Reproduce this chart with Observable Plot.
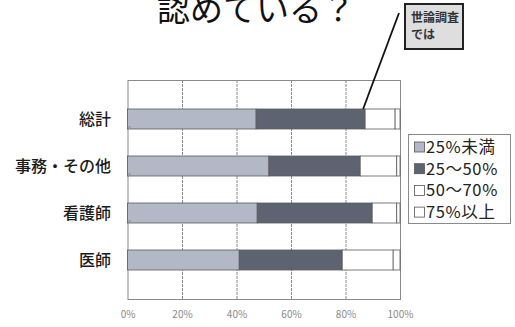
<!DOCTYPE html>
<html>
<head>
<meta charset="utf-8">
<script src="https://cdn.jsdelivr.net/npm/d3@7"></script>
<script src="https://cdn.jsdelivr.net/npm/@observablehq/plot@0.6"></script>
<style>
  html, body { margin: 0; padding: 0; background: #fff; }
  #chart svg { display: block; }
</style>
</head>
<body>
<div id="chart"></div>
<script>
// ---- data ----
const title = "認めている？";
const calloutLines = ["世論調査", "では"];
const categories = ["総計", "事務・その他", "看護師", "医師"];
const seriesNames = ["25%未満", "25〜50%", "50〜70%", "75%以上"];
const under25 = [47.2, 51.9, 47.6, 41.0];
const from25to50 = [40.0, 33.5, 42.2, 37.8];
const from50to70 = [11.0, 13.4, 9.0, 18.7];
const over75 = [1.8, 1.2, 1.2, 2.5];
const xTicks = [0, 20, 40, 60, 80, 100];
const xTickLabels = ["0%", "20%", "40%", "60%", "80%", "100%"];
const gridValues = [20, 40, 60, 80];
const seriesColors = ["#b3b8c6", "#5e6372", "#ffffff", "#ffffff"];

// ---- table ----
const seriesValues = [under25, from25to50, from50to70, over75];
const table = [];
categories.forEach((c, i) => {
  seriesNames.forEach((s, j) => table.push({cat: c, series: s, value: seriesValues[j][i]}));
});

const FONT = "'Noto Sans CJK JP', sans-serif";

const chart = Plot.plot({
  width: 515,
  height: 327,
  marginLeft: 127.5,
  marginRight: 115,
  marginTop: 80,
  marginBottom: 28,
  style: {fontFamily: FONT, background: "#fff"},
  x: {domain: [0, 100], axis: null},
  y: {domain: categories, padding: 0.58, axis: null},
  color: {domain: seriesNames, range: seriesColors},
  marks: [
    Plot.ruleX(gridValues, {stroke: "#8a8a8a", strokeWidth: 1, strokeDasharray: "3,1"}),
    Plot.frame({stroke: "#8a8a8a", strokeWidth: 1}),
    Plot.barX(table, Plot.stackX({
      x: "value", y: "cat", fill: "series", order: seriesNames,
      stroke: "#5a5a5a", strokeWidth: 0.8
    })),
    Plot.text(categories, {
      y: d => d, text: d => d, frameAnchor: "left", dx: -17, textAnchor: "end",
      fontSize: 16, fontWeight: 500, fill: "#1a1a1a", fontFamily: FONT
    }),
    Plot.text(xTicks, {
      x: d => d, text: (d, i) => xTickLabels[i], frameAnchor: "bottom", dy: 18,
      fontSize: 10, fill: "#8a8a8a", fontFamily: FONT
    })
  ]
});

document.getElementById("chart").appendChild(chart);

// ---- annotations using the plot's scales ----
const svg = d3.select(chart);
const xs = chart.scale("x");
const ys = chart.scale("y");
const yTop = Math.min(...ys.range);
const step = ys.step;
const x0 = xs.apply(0);

// band-boundary ticks on the y axis (inward)
const tickG = svg.append("g");
for (let i = 1; i < categories.length; i++) {
  const yy = yTop + i * step;
  tickG.append("line").attr("x1", x0).attr("x2", x0 + 3.5).attr("y1", yy).attr("y2", yy)
    .attr("stroke", "#8a8a8a").attr("stroke-width", 1);
}

// title
svg.append("text").attr("x", 256).attr("y", 21).attr("text-anchor", "middle")
  .attr("font-size", 33).attr("font-family", FONT).attr("fill", "#111").text(title);

// callout
const barTop = ys.apply(categories[0]);
const calloutX = xs.apply(under25[0] + from25to50[0]) - 2;
svg.append("line").attr("x1", 399).attr("y1", 13).attr("x2", calloutX).attr("y2", barTop)
  .attr("stroke", "#111").attr("stroke-width", 1.8);
svg.append("rect").attr("x", 405).attr("y", 4).attr("width", 58).attr("height", 45)
  .attr("fill", "#dedede").attr("stroke", "#222").attr("stroke-width", 2);
calloutLines.forEach((t, i) => {
  svg.append("text").attr("x", 411).attr("y", 22 + i * 17).attr("font-size", 12)
    .attr("text-anchor", "start")
    .attr("font-weight", "bold").attr("font-family", FONT).attr("fill", "#333").text(t);
});

// legend
const lg = svg.append("g");
lg.append("rect").attr("x", 408.5).attr("y", 134.5).attr("width", 102).attr("height", 89)
  .attr("fill", "#fff").attr("stroke", "#8a8a8a").attr("stroke-width", 1);
const cs = chart.scale("color");
seriesNames.forEach((s, i) => {
  const cy = 147 + i * 21.7;
  lg.append("rect").attr("x", 414.5).attr("y", cy - 5).attr("width", 10).attr("height", 10)
    .attr("fill", cs.range[i]).attr("stroke", "#555").attr("stroke-width", 0.8);
  lg.append("text").attr("x", 426).attr("y", cy).attr("dy", "0.36em").attr("font-size", 16.5)
    .attr("letter-spacing", "0.6").attr("text-anchor", "start")
    .attr("font-family", FONT).attr("fill", "#222").text(s);
});
</script>
</body>
</html>
